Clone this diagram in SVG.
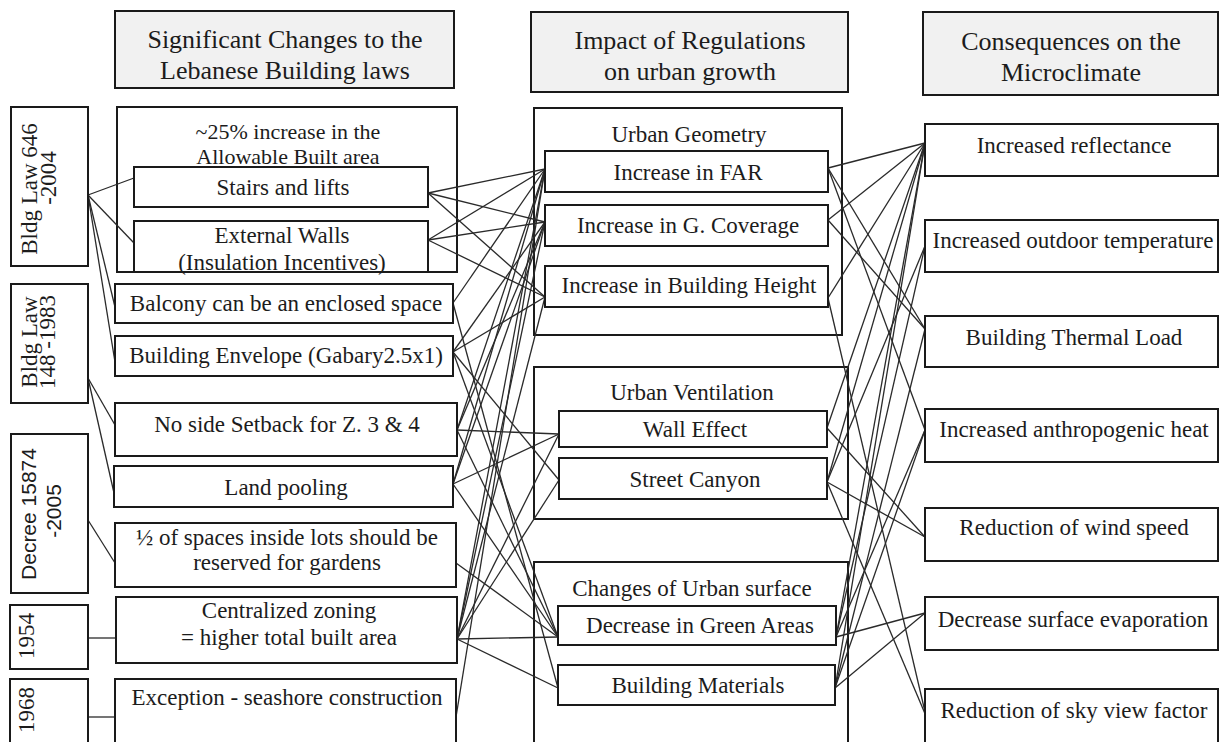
<svg xmlns="http://www.w3.org/2000/svg" width="1219" height="742" viewBox="0 0 1219 742">
<style>
.box{fill:#fff;stroke:#1a1a1a;stroke-width:2}
.outer{fill:none;stroke:#1a1a1a;stroke-width:2}
.hdr{fill:#f1f1f1;stroke:#1a1a1a;stroke-width:2}
text{font-family:"Liberation Serif","Times New Roman",serif;font-size:23px;fill:#1c1c1c;text-anchor:middle}
.h{font-size:26px}
.s22{font-size:22px}
.sans{font-family:"Liberation Sans",Arial,sans-serif;font-size:21px}
.c line{stroke:#2a2a2a;stroke-width:1.3}
</style>
<rect width="1219" height="742" fill="#fff"/>

<g id="headers">
<g id="h1"><rect class="hdr" x="115" y="11" width="339" height="77"/><text class="h" x="285" y="48">Significant Changes to the</text><text class="h" x="285" y="79">Lebanese Building laws</text></g>
<g id="h2"><rect class="hdr" x="531" y="12" width="317" height="80"/><text class="h" x="690" y="49">Impact of Regulations</text><text class="h" x="690" y="80">on urban growth</text></g>
<g id="h3"><rect class="hdr" x="923" y="12" width="295" height="83"/><text class="h" x="1071" y="50">Consequences on the</text><text class="h" x="1071" y="81">Microclimate</text></g>
</g>

<g id="containers">
<g id="allowable"><rect class="outer" x="117" y="107" width="340" height="165"/><text class="s22" x="288" y="139">~25% increase in the</text><text class="s22" x="288" y="164">Allowable Built area</text></g>
<g id="urban-geometry"><rect class="outer" x="534" y="108" width="308" height="227"/><text x="689" y="142">Urban Geometry</text></g>
<g id="urban-ventilation"><rect class="outer" x="534" y="367" width="314" height="152"/><text x="692" y="400">Urban Ventilation</text></g>
<g id="urban-surface"><rect class="outer" x="534" y="562" width="314" height="200"/><text x="692" y="596">Changes of Urban surface</text></g>
</g>

<g id="connectors" class="c">
<!-- laws to changes -->
<line x1="88" y1="195" x2="134" y2="178"/>
<line x1="88" y1="195" x2="134" y2="243"/>
<line x1="88" y1="195" x2="115" y2="307"/>
<line x1="88" y1="195" x2="115" y2="362"/>
<line x1="88" y1="378" x2="115" y2="425"/>
<line x1="88" y1="378" x2="114" y2="493"/>
<line x1="88" y1="520" x2="115" y2="563"/>
<line x1="88" y1="638" x2="116" y2="638"/>
<line x1="88" y1="717" x2="115" y2="717"/>
<!-- changes to urban growth -->
<line x1="428" y1="193" x2="545" y2="169"/>
<line x1="428" y1="193" x2="545" y2="222"/>
<line x1="428" y1="193" x2="545" y2="297"/>
<line x1="428" y1="240" x2="545" y2="169"/>
<line x1="428" y1="240" x2="545" y2="222"/>
<line x1="428" y1="240" x2="545" y2="297"/>
<line x1="453" y1="303" x2="545" y2="169"/>
<line x1="453" y1="303" x2="558" y2="688"/>
<line x1="453" y1="352" x2="545" y2="222"/>
<line x1="453" y1="352" x2="545" y2="297"/>
<line x1="453" y1="352" x2="559" y2="480"/>
<line x1="453" y1="352" x2="558" y2="637"/>
<line x1="457" y1="430" x2="559" y2="434"/>
<line x1="457" y1="430" x2="545" y2="169"/>
<line x1="457" y1="430" x2="545" y2="222"/>
<line x1="457" y1="430" x2="558" y2="637"/>
<line x1="453" y1="484" x2="559" y2="434"/>
<line x1="453" y1="484" x2="545" y2="169"/>
<line x1="453" y1="484" x2="545" y2="222"/>
<line x1="453" y1="484" x2="558" y2="637"/>
<line x1="456" y1="563" x2="558" y2="637"/>
<line x1="457" y1="639" x2="558" y2="637"/>
<line x1="457" y1="639" x2="558" y2="688"/>
<line x1="457" y1="639" x2="545" y2="169"/>
<line x1="457" y1="639" x2="545" y2="222"/>
<line x1="457" y1="639" x2="545" y2="297"/>
<line x1="457" y1="639" x2="559" y2="480"/>
<line x1="457" y1="639" x2="559" y2="434"/>
<line x1="456" y1="717" x2="545" y2="169"/>
<!-- urban growth to microclimate -->
<line x1="828" y1="168" x2="925" y2="143"/>
<line x1="828" y1="168" x2="925" y2="329"/>
<line x1="828" y1="168" x2="925" y2="430"/>
<line x1="828" y1="220" x2="925" y2="143"/>
<line x1="828" y1="220" x2="925" y2="329"/>
<line x1="828" y1="298" x2="925" y2="143"/>
<line x1="828" y1="298" x2="926" y2="716"/>
<line x1="827" y1="428" x2="925" y2="143"/>
<line x1="827" y1="428" x2="925" y2="537"/>
<line x1="827" y1="482" x2="925" y2="143"/>
<line x1="827" y1="482" x2="925" y2="246"/>
<line x1="827" y1="482" x2="925" y2="537"/>
<line x1="827" y1="482" x2="926" y2="716"/>
<line x1="836" y1="637" x2="925" y2="143"/>
<line x1="836" y1="637" x2="925" y2="246"/>
<line x1="836" y1="637" x2="925" y2="430"/>
<line x1="836" y1="637" x2="925" y2="613"/>
<line x1="835" y1="688" x2="925" y2="143"/>
<line x1="835" y1="688" x2="925" y2="329"/>
<line x1="835" y1="688" x2="925" y2="430"/>
<line x1="835" y1="688" x2="925" y2="613"/>
</g>

<g id="laws">
<g id="law646"><rect class="box" x="11" y="107" width="77" height="159"/><text transform="translate(37,189) rotate(-90)">Bldg Law 646</text><text transform="translate(56,178) rotate(-90)">-2004</text></g>
<g id="law148"><rect class="box" x="11" y="284" width="77" height="119"/><text transform="translate(37,342) rotate(-90)">Bldg Law</text><text transform="translate(55,342) rotate(-90)">148 -1983</text></g>
<g id="decree"><rect class="box" x="11" y="434" width="77" height="159"/><text class="sans" transform="translate(36,514) rotate(-90)">Decree 15874</text><text class="sans" transform="translate(61,511) rotate(-90)">-2005</text></g>
<g id="y1954"><rect class="box" x="10" y="605" width="78" height="64"/><text transform="translate(34,636) rotate(-90)">1954</text></g>
<g id="y1968"><rect class="box" x="10" y="679" width="78" height="75"/><text transform="translate(34,710) rotate(-90)">1968</text></g>
</g>

<g id="changes">
<g id="stairs"><rect class="box" x="134" y="167" width="294" height="40"/><text x="283" y="195">Stairs and lifts</text></g>
<g id="walls"><rect class="box" x="134" y="221" width="294" height="51"/><text x="282" y="243">External Walls</text><text x="282" y="270">(Insulation Incentives)</text></g>
<g id="balcony"><rect class="box" x="115" y="284" width="338" height="39"/><text x="286" y="311">Balcony can be an enclosed space</text></g>
<g id="envelope"><rect class="box" x="115" y="336" width="338" height="40"/><text x="286" y="363">Building Envelope (Gabary2.5x1)</text></g>
<g id="setback"><rect class="box" x="115" y="403" width="342" height="53"/><text x="287" y="432">No side Setback for Z. 3 &amp; 4</text></g>
<g id="pooling"><rect class="box" x="114" y="466" width="339" height="41"/><text x="286" y="495">Land pooling</text></g>
<g id="gardens"><rect class="box" x="115" y="523" width="341" height="64"/><text x="287" y="545">½ of spaces inside lots should be</text><text x="287" y="570">reserved for gardens</text></g>
<g id="zoning"><rect class="box" x="116" y="597" width="341" height="66"/><text x="289" y="618">Centralized zoning</text><text x="289" y="645">= higher total built area</text></g>
<g id="seashore"><rect class="box" x="115" y="679" width="341" height="75"/><text x="287" y="705">Exception - seashore construction</text></g>
</g>

<g id="growth">
<g id="far"><rect class="box" x="545" y="151" width="283" height="41"/><text x="688" y="180">Increase in FAR</text></g>
<g id="coverage"><rect class="box" x="545" y="205" width="283" height="41"/><text x="688" y="233">Increase in G. Coverage</text></g>
<g id="height"><rect class="box" x="545" y="266" width="283" height="41"/><text x="689" y="293">Increase in Building Height</text></g>
<g id="wall-effect"><rect class="box" x="559" y="411" width="268" height="36"/><text x="695" y="437">Wall Effect</text></g>
<g id="canyon"><rect class="box" x="559" y="458" width="268" height="41"/><text x="695" y="487">Street Canyon</text></g>
<g id="green"><rect class="box" x="558" y="606" width="278" height="39"/><text x="700" y="633">Decrease in Green Areas</text></g>
<g id="materials"><rect class="box" x="558" y="665" width="277" height="40"/><text x="698" y="693">Building Materials</text></g>
</g>

<g id="microclimate">
<g id="reflectance"><rect class="box" x="925" y="124" width="293" height="52"/><text x="1074" y="153">Increased reflectance</text></g>
<g id="outdoor"><rect class="box" x="925" y="220" width="293" height="52"/><text x="1073" y="248">Increased outdoor temperature</text></g>
<g id="thermal"><rect class="box" x="925" y="316" width="293" height="51"/><text x="1074" y="345">Building Thermal Load</text></g>
<g id="anthropogenic"><rect class="box" x="925" y="409" width="293" height="53"/><text x="1074" y="437">Increased anthropogenic heat</text></g>
<g id="wind"><rect class="box" x="925" y="508" width="293" height="53"/><text x="1074" y="535">Reduction of wind speed</text></g>
<g id="evaporation"><rect class="box" x="925" y="597" width="293" height="53"/><text x="1073" y="627">Decrease surface evaporation</text></g>
<g id="skyview"><rect class="box" x="925" y="689" width="293" height="65"/><text x="1074" y="718">Reduction of sky view factor</text></g>
</g>
</svg>
